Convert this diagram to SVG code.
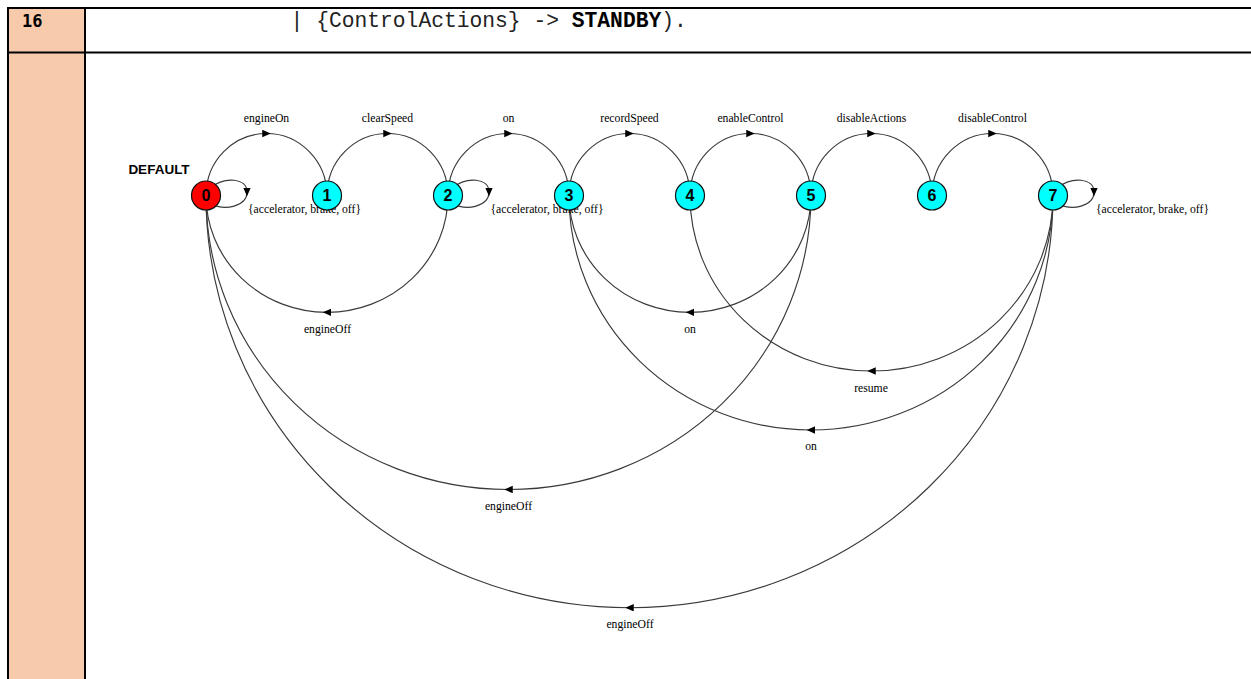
<svg xmlns="http://www.w3.org/2000/svg" width="1251" height="679" viewBox="0 0 1251 679">
<style>
.edge{fill:none;stroke:#3a3a3a;stroke-width:1.15;marker-mid:url(#arr)}
.lbl{font-family:"Liberation Serif","Times New Roman",serif;font-size:11.7px;fill:#000;text-anchor:middle}
.lbl-s{font-family:"Liberation Serif","Times New Roman",serif;font-size:11.7px;fill:#000}
.node circle{stroke:#111;stroke-width:1.2}
.node text{font-family:"Liberation Sans",Arial,sans-serif;font-weight:bold;font-size:16px;fill:#000;text-anchor:middle}
.n0{fill:#ff0000}
.nc{fill:#00ffff}
.tline{stroke:#000;stroke-width:2;fill:none}
</style>
<defs>
<marker id="arr" markerWidth="10" markerHeight="10" refX="4.25" refY="3.75" orient="auto" markerUnits="userSpaceOnUse">
<path d="M0,0 L8.5,3.75 L0,7.5 Z" fill="#000"/>
</marker>
</defs>
<rect x="0" y="0" width="1251" height="679" fill="#fff"/>
<g id="table">
<rect x="8" y="8" width="77" height="671" fill="#f7caac"/>
<line class="tline" x1="7" y1="8" x2="1251" y2="8"/>
<line class="tline" x1="7" y1="52.5" x2="1251" y2="52.5"/>
<line class="tline" x1="8" y1="7" x2="8" y2="679"/>
<line class="tline" x1="85" y1="7" x2="85" y2="679"/>
<text x="22" y="27" font-family="'DejaVu Sans Mono','Liberation Mono',monospace" font-weight="bold" font-size="17px" fill="#000">16</text>
<text x="290.6" y="27" font-family="'Liberation Mono','Courier New',monospace" font-size="21.3px" fill="#222" xml:space="preserve">| {ControlActions} -&gt; <tspan font-weight="bold" fill="#000">STANDBY</tspan>).</text>
</g>
<g id="connectors">
<path class="edge" d="M206 195.5 A60.5 62 0 0 1 266.5 133.5 A60.5 62 0 0 1 327 195.5"/>
<path class="edge" d="M327 195.5 A60.5 62 0 0 1 387.5 133.5 A60.5 62 0 0 1 448 195.5"/>
<path class="edge" d="M448 195.5 A60.5 62 0 0 1 508.5 133.5 A60.5 62 0 0 1 569 195.5"/>
<path class="edge" d="M569 195.5 A60.5 62 0 0 1 629.5 133.5 A60.5 62 0 0 1 690 195.5"/>
<path class="edge" d="M690 195.5 A60.5 62 0 0 1 750.5 133.5 A60.5 62 0 0 1 811 195.5"/>
<path class="edge" d="M811 195.5 A60.5 62 0 0 1 871.5 133.5 A60.5 62 0 0 1 932 195.5"/>
<path class="edge" d="M932 195.5 A60.5 62 0 0 1 992.5 133.5 A60.5 62 0 0 1 1053 195.5"/>
<path class="edge" d="M448 195.5 A121 116.8 0 0 1 327 312.3 A121 116.8 0 0 1 206 195.5"/>
<path class="edge" d="M811 195.5 A121 116.8 0 0 1 690 312.3 A121 116.8 0 0 1 569 195.5"/>
<path class="edge" d="M1053 195.5 A181.5 175.5 0 0 1 871.5 371 A181.5 175.5 0 0 1 690 195.5"/>
<path class="edge" d="M1053 195.5 A242 234.5 0 0 1 811 430 A242 234.5 0 0 1 569 195.5"/>
<path class="edge" d="M811 195.5 A302.5 294 0 0 1 508.5 489.5 A302.5 294 0 0 1 206 195.5"/>
<path class="edge" d="M1053 195.5 A423.5 412.2 0 0 1 629.5 607.7 A423.5 412.2 0 0 1 206 195.5"/>
<path class="edge" d="M210 188 C225 176 247 178 247 192 C247 206 225 212 210 203"/>
<path class="edge" d="M452 188 C467 176 489 178 489 192 C489 206 467 212 452 203"/>
<path class="edge" d="M1057 188 C1072 176 1094 178 1094 192 C1094 206 1072 212 1057 203"/>
<text class="lbl" x="266.5" y="122">engineOn</text>
<text class="lbl" x="387.5" y="122">clearSpeed</text>
<text class="lbl" x="508.5" y="122">on</text>
<text class="lbl" x="629.5" y="122">recordSpeed</text>
<text class="lbl" x="750.5" y="122">enableControl</text>
<text class="lbl" x="871.5" y="122">disableActions</text>
<text class="lbl" x="992.5" y="122">disableControl</text>
<text class="lbl" x="327.5" y="332.5">engineOff</text>
<text class="lbl" x="690" y="332.5">on</text>
<text class="lbl" x="871" y="391.5">resume</text>
<text class="lbl" x="811" y="450">on</text>
<text class="lbl" x="508.5" y="509.5">engineOff</text>
<text class="lbl" x="630" y="628">engineOff</text>
<text class="lbl-s" x="248" y="213">{accelerator, brake, off}</text>
<text class="lbl-s" x="490.5" y="213">{accelerator, brake, off}</text>
<text class="lbl-s" x="1096" y="213">{accelerator, brake, off}</text>
</g>
<g id="node0" class="node">
<text x="159" y="174" font-size="13.5px" style="font-size:13.5px">DEFAULT</text>
<circle class="n0" cx="206" cy="195.5" r="14.5"/>
<text x="206" y="201.3">0</text>
</g>
<g id="node1" class="node"><circle class="nc" cx="327" cy="195.5" r="14.5"/><text x="327" y="201.3">1</text></g>
<g id="node2" class="node"><circle class="nc" cx="448" cy="195.5" r="14.5"/><text x="448" y="201.3">2</text></g>
<g id="node3" class="node"><circle class="nc" cx="569" cy="195.5" r="14.5"/><text x="569" y="201.3">3</text></g>
<g id="node4" class="node"><circle class="nc" cx="690" cy="195.5" r="14.5"/><text x="690" y="201.3">4</text></g>
<g id="node5" class="node"><circle class="nc" cx="811" cy="195.5" r="14.5"/><text x="811" y="201.3">5</text></g>
<g id="node6" class="node"><circle class="nc" cx="932" cy="195.5" r="14.5"/><text x="932" y="201.3">6</text></g>
<g id="node7" class="node"><circle class="nc" cx="1053" cy="195.5" r="14.5"/><text x="1053" y="201.3">7</text></g>
</svg>
